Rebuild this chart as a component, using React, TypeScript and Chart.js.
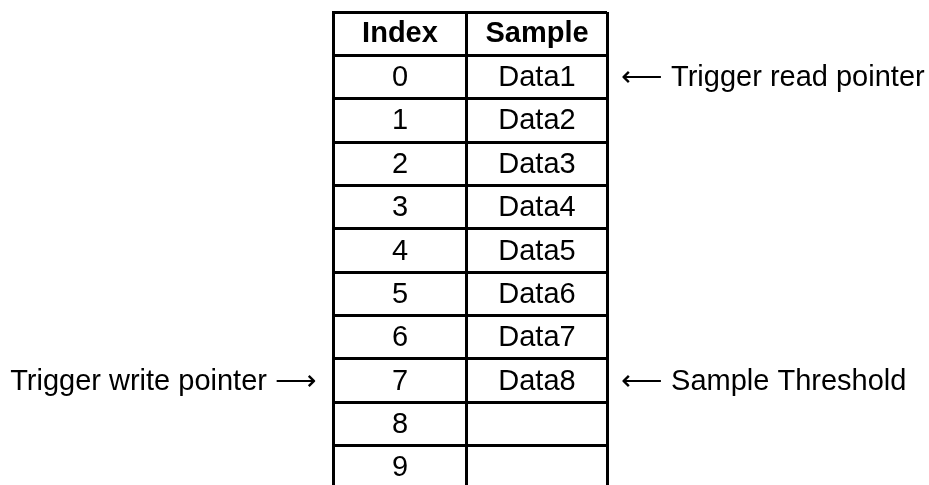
import { useEffect, useRef } from 'react';
import { Chart, registerables } from 'chart.js';

Chart.register(...registerables);

// ---- data ----
const headers = ['Index', 'Sample'];
const indexValues = ['0', '1', '2', '3', '4', '5', '6', '7', '8', '9'];
const sampleValues = ['Data1', 'Data2', 'Data3', 'Data4', 'Data5', 'Data6', 'Data7', 'Data8', '', ''];
const rightNotes = [
  { row: 0, text: '\u27F5 Trigger read pointer' },
  { row: 7, text: '\u27F5 Sample Threshold' },
];
const leftNotes = [{ row: 7, text: 'Trigger write pointer \u27F6' }];

// ---- layout ----
const W = 929;
const H = 500;
const COL_SPLIT = 0.978; // boundary between the two columns on the x scale (0..2)
const FONT = '"Liberation Sans", Arial, Helvetica, sans-serif';
const FONT_SIZE = 29;

export default function App() {
  const ref = useRef<HTMLCanvasElement | null>(null);

  useEffect(() => {
    document.body.style.margin = '0';
    const canvas = ref.current;
    if (!canvas) return;
    const rows = indexValues.length + 1;
    const colCenters = [COL_SPLIT / 2, (COL_SPLIT + 2) / 2];

    const cellPoints: { x: number; y: number; label: string; bold: boolean }[] = [];
    headers.forEach((h, c) => cellPoints.push({ x: colCenters[c], y: 0.5, label: h, bold: true }));
    indexValues.forEach((v, i) => cellPoints.push({ x: colCenters[0], y: i + 1.5, label: v, bold: false }));
    sampleValues.forEach((v, i) => cellPoints.push({ x: colCenters[1], y: i + 1.5, label: v, bold: false }));

    const tablePlugin = {
      id: 'tableText',
      afterDatasetsDraw(chart: any) {
        const ctx = chart.ctx as CanvasRenderingContext2D;
        const meta = chart.getDatasetMeta(0);
        const xs = chart.scales.x;
        const ys = chart.scales.y;
        ctx.save();
        ctx.fillStyle = '#000';
        ctx.textBaseline = 'middle';
        ctx.textAlign = 'center';
        meta.data.forEach((el: any, i: number) => {
          const p = cellPoints[i];
          if (!p.label) return;
          ctx.font = `${p.bold ? 'bold ' : ''}${FONT_SIZE}px ${FONT}`;
          ctx.fillText(p.label, el.x, el.y + (p.bold ? 0 : 1));
        });
        ctx.font = `${FONT_SIZE}px ${FONT}`;
        ctx.textAlign = 'left';
        rightNotes.forEach((n) => {
          ctx.fillText(n.text, xs.getPixelForValue(2) + 14, ys.getPixelForValue(n.row + 1.5) + 1);
        });
        ctx.textAlign = 'right';
        leftNotes.forEach((n) => {
          ctx.fillText(n.text, xs.getPixelForValue(0) - 16, ys.getPixelForValue(n.row + 1.5) + 1);
        });
        ctx.restore();
      },
    };

    const chart = new Chart(canvas, {
      type: 'scatter',
      data: {
        datasets: [
          {
            data: cellPoints.map((p) => ({ x: p.x, y: p.y })),
            pointRadius: 0,
            pointHoverRadius: 0,
          },
        ],
      },
      options: {
        responsive: false,
        animation: false,
        events: [],
        layout: { padding: { left: 333, right: W - 607, top: 12, bottom: H - 489 } },
        plugins: { legend: { display: false }, tooltip: { enabled: false } },
        scales: {
          x: {
            type: 'linear',
            min: 0,
            max: 2,
            afterBuildTicks: (scale: any) => {
              scale.ticks = [{ value: 0 }, { value: COL_SPLIT }, { value: 2 }];
            },
            ticks: { display: false },
            grid: { color: '#000', lineWidth: 3, drawTicks: false },
            border: { display: true, color: '#000', width: 3 },
          },
          y: {
            type: 'linear',
            min: 0,
            max: rows,
            reverse: true,
            ticks: { display: false, stepSize: 1 },
            grid: { color: '#000', lineWidth: 3, drawTicks: false },
            border: { display: true, color: '#000', width: 3 },
          },
        },
      },
      plugins: [tablePlugin],
    });
    return () => chart.destroy();
  }, []);

  return (
    <div style={{ position: 'absolute', left: 0, top: 0, width: W, height: H, background: '#fff' }}>
      <canvas ref={ref} width={W} height={H} />
    </div>
  );
}
